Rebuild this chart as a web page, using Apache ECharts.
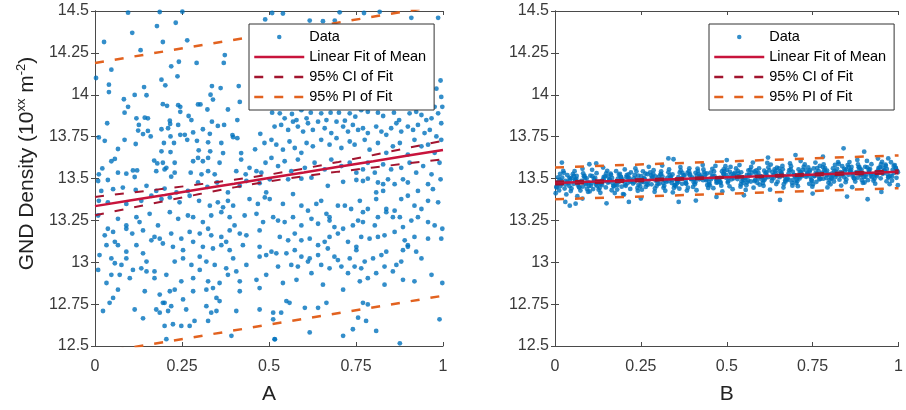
<!DOCTYPE html>
<html>
<head>
<meta charset="utf-8">
<script src="https://cdn.jsdelivr.net/npm/echarts@6/dist/echarts.min.js"></script>
<style>
  html, body { margin: 0; padding: 0; background: #fff; }
  #chart { width: 906px; height: 410px; }
</style>
</head>
<body>
<div id="chart"></div>
<script>
// Panel A: GND density samples against A
const dataA = [
  [0.095,14.49],[0.186,14.494],[0.251,14.496],[0.107,14.37],[0.178,14.41],[0.232,14.43],[0.026,14.315],[0.195,14.315],
  [0.265,14.325],[0.131,14.266],[0.373,14.237],[0.241,14.197],[0.292,14.19],[0.37,14.19],[0.219,14.17],[0.047,14.15],
  [0.191,14.09],[0.237,14.11],[0.202,14.056],[0.003,14.1],[0.04,14.06],[0.04,14.016],[0.141,14.046],[0.336,14.052],
  [0.361,14.04],[0.413,14.052],[0.083,13.973],[0.114,13.999],[0.148,13.997],[0.332,14.0],[0.339,13.971],[0.416,13.957],
  [0.095,13.928],[0.195,13.944],[0.207,13.934],[0.239,13.938],[0.245,13.928],[0.296,13.942],[0.303,13.942],[0.085,13.893],
  [0.245,13.898],[0.323,13.912],[0.382,13.912],[0.119,13.859],[0.143,13.863],[0.152,13.859],[0.215,13.845],[0.269,13.873],
  [0.035,13.83],[0.126,13.82],[0.216,13.826],[0.239,13.82],[0.277,13.849],[0.336,13.839],[0.353,13.814],[0.409,13.849],
  [0.011,13.745],[0.028,13.725],[0.124,13.786],[0.138,13.765],[0.152,13.784],[0.191,13.794],[0.21,13.8],[0.245,13.761],
  [0.258,13.761],[0.282,13.775],[0.31,13.794],[0.33,13.767],[0.371,13.82],[0.395,13.759],[0.409,13.741],[0.085,13.731],
  [0.117,13.706],[0.16,13.751],[0.198,13.712],[0.217,13.751],[0.227,13.712],[0.265,13.731],[0.293,13.725],[0.325,13.716],
  [0.363,13.712],[0.397,13.747],[0.066,13.676],[0.191,13.662],[0.217,13.658],[0.298,13.668],[0.331,13.662],[0.368,13.652],
  [0.42,13.652],[0.46,13.674],[0.475,13.767],[0.487,13.712],[0.49,13.594],[0.047,13.603],[0.057,13.617],[0.17,13.607],
  [0.179,13.59],[0.195,13.594],[0.205,13.564],[0.229,13.594],[0.282,13.603],[0.296,13.623],[0.31,13.603],[0.325,13.623],
  [0.358,13.594],[0.42,13.613],[0.444,13.564],[0.464,13.544],[0.021,13.56],[0.011,13.525],[0.066,13.535],[0.09,13.529],
  [0.109,13.548],[0.121,13.548],[0.176,13.544],[0.2,13.554],[0.229,13.535],[0.275,13.535],[0.306,13.525],[0.325,13.544],
  [0.344,13.525],[0.406,13.544],[0.433,13.525],[0.478,13.535],
  [0.509,14.488],[0.617,14.443],[0.655,14.439],[0.689,14.443],[0.703,14.492],[0.773,14.488],[0.818,14.495],[0.909,14.459],
  [0.986,14.459],[0.489,14.45],[0.54,14.485],
  [0.967,14.144],[0.955,14.066],[0.993,14.085],[0.981,14.036],[0.995,13.987],[0.998,13.928],[0.976,13.928],
  [0.509,13.893],[0.531,13.889],[0.545,13.859],[0.566,13.885],[0.579,13.849],[0.593,13.908],[0.608,13.859],[0.62,13.893],
  [0.65,13.889],[0.665,13.849],[0.677,13.893],[0.701,13.893],[0.718,13.845],[0.732,13.889],[0.748,13.869],[0.765,13.908],
  [0.784,13.898],[0.813,13.893],[0.828,13.873],[0.859,13.893],[0.874,13.849],[0.904,13.889],[0.923,13.898],[0.938,13.879],
  [0.952,13.849],[0.967,13.859],[0.986,13.889],[0.516,13.81],[0.535,13.82],[0.555,13.79],[0.569,13.839],[0.583,13.81],
  [0.598,13.78],[0.612,13.83],[0.626,13.79],[0.641,13.839],[0.66,13.8],[0.679,13.771],[0.694,13.839],[0.713,13.81],
  [0.727,13.78],[0.741,13.82],[0.756,13.79],[0.77,13.8],[0.784,13.771],[0.808,13.81],[0.823,13.78],[0.837,13.761],
  [0.851,13.8],[0.866,13.83],[0.88,13.78],[0.899,13.81],[0.914,13.79],[0.928,13.82],[0.947,13.771],[0.962,13.79],
  [0.981,13.751],[0.995,13.83],[0.507,13.731],[0.521,13.702],[0.54,13.672],[0.559,13.721],[0.574,13.682],[0.593,13.653],
  [0.608,13.712],[0.626,13.692],[0.65,13.731],[0.674,13.702],[0.694,13.741],[0.708,13.682],[0.732,13.721],[0.746,13.702],
  [0.775,13.731],[0.789,13.672],[0.813,13.712],[0.837,13.653],[0.856,13.692],[0.876,13.712],[0.899,13.643],[0.918,13.731],
  [0.938,13.692],[0.957,13.702],[0.976,13.653],[0.995,13.731],[0.507,13.623],[0.526,13.574],[0.545,13.603],[0.564,13.544],
  [0.583,13.613],[0.603,13.564],[0.631,13.594],[0.66,13.554],[0.679,13.613],[0.708,13.574],[0.732,13.594],[0.751,13.535],
  [0.77,13.554],[0.784,13.594],[0.804,13.535],[0.828,13.584],[0.851,13.554],[0.88,13.564],[0.904,13.594],[0.923,13.535],
  [0.943,13.574],[0.967,13.525],[0.99,13.594],
  [0.009,13.485],[0.037,13.491],[0.114,13.509],[0.219,13.511],[0.018,13.426],[0.052,13.436],[0.08,13.446],[0.117,13.432],
  [0.148,13.456],[0.176,13.426],[0.2,13.44],[0.234,13.417],[0.267,13.426],[0.296,13.476],[0.323,13.45],[0.351,13.476],
  [0.382,13.417],[0.416,13.456],[0.435,13.485],[0.473,13.472],[0.492,13.417],[0.011,13.367],[0.037,13.358],[0.09,13.348],
  [0.133,13.367],[0.162,13.397],[0.191,13.377],[0.215,13.387],[0.243,13.358],[0.272,13.397],[0.299,13.367],[0.33,13.338],
  [0.353,13.358],[0.368,13.328],[0.382,13.367],[0.397,13.338],[0.444,13.377],[0.468,13.348],[0.488,13.387],[0.009,13.279],
  [0.037,13.2],[0.066,13.259],[0.09,13.22],[0.119,13.269],[0.128,13.24],[0.157,13.289],[0.181,13.22],[0.215,13.299],
  [0.239,13.259],[0.267,13.279],[0.282,13.269],[0.31,13.24],[0.334,13.279],[0.363,13.299],[0.387,13.269],[0.401,13.22],
  [0.43,13.279],[0.464,13.289],[0.483,13.24],[0.028,13.161],[0.052,13.181],[0.09,13.2],[0.107,13.171],[0.138,13.19],
  [0.171,13.151],[0.186,13.141],[0.219,13.171],[0.248,13.141],[0.272,13.181],[0.301,13.171],[0.325,13.2],[0.334,13.161],
  [0.363,13.151],[0.387,13.19],[0.416,13.171],[0.435,13.161],[0.473,13.19],[0.033,13.102],[0.057,13.122],[0.066,13.102],
  [0.09,13.063],[0.119,13.102],[0.138,13.053],[0.162,13.131],[0.195,13.112],[0.224,13.092],[0.253,13.072],[0.282,13.122],
  [0.31,13.092],[0.339,13.082],[0.363,13.102],[0.377,13.122],[0.387,13.072],[0.425,13.102],[0.473,13.092],[0.492,13.043],
  [0.013,13.043],[0.047,13.023],[0.057,12.994],[0.076,12.984],[0.09,13.023],[0.109,12.954],[0.133,12.964],[0.148,13.004],
  [0.171,12.945],[0.229,13.004],[0.253,13.023],[0.277,12.984],[0.301,13.033],[0.32,13.004],[0.344,12.984],[0.377,12.964],
  [0.397,13.023],[0.435,12.984],[0.473,13.033],[0.009,12.954],[0.033,12.876],[0.047,12.925],[0.071,12.925],[0.1,12.905],
  [0.148,12.945],[0.171,12.905],[0.205,12.925],[0.248,12.886],[0.282,12.905],[0.301,12.954],[0.325,12.886],[0.358,12.876],
  [0.382,12.925],[0.406,12.945],[0.416,12.886],[0.464,12.895],[0.492,12.925],[0.066,12.836],[0.052,12.787],[0.042,12.758],
  [0.023,12.709],[0.143,12.827],[0.186,12.807],[0.2,12.758],[0.215,12.827],[0.229,12.836],[0.253,12.778],[0.282,12.827],
  [0.32,12.836],[0.339,12.846],[0.349,12.787],[0.358,12.768],[0.416,12.827],[0.473,12.846],[0.114,12.718],[0.138,12.665],
  [0.176,12.718],[0.186,12.699],[0.195,12.758],[0.21,12.709],[0.219,12.738],[0.262,12.718],[0.32,12.738],[0.325,12.65],
  [0.334,12.699],[0.349,12.709],[0.406,12.709],[0.473,12.718],[0.2,12.62],[0.248,12.62],[0.272,12.62],[0.286,12.65],
  [0.392,12.561],[0.205,12.541],[0.224,12.63],[0.517,12.54],
  [0.502,13.495],[0.555,13.495],[0.593,13.499],[0.622,13.505],[0.669,13.456],[0.713,13.48],[0.751,13.491],[0.77,13.485],
  [0.784,13.499],[0.808,13.417],[0.813,13.476],[0.828,13.466],[0.842,13.495],[0.861,13.466],[0.885,13.495],[0.899,13.476],
  [0.928,13.426],[0.957,13.466],[0.971,13.436],[0.993,13.495],[0.502,13.377],[0.54,13.348],[0.569,13.407],[0.593,13.338],
  [0.612,13.308],[0.636,13.348],[0.65,13.367],[0.665,13.289],[0.674,13.269],[0.698,13.338],[0.718,13.338],[0.736,13.318],
  [0.761,13.367],[0.77,13.299],[0.784,13.318],[0.808,13.377],[0.828,13.426],[0.837,13.318],[0.861,13.308],[0.88,13.377],
  [0.899,13.397],[0.918,13.338],[0.938,13.318],[0.957,13.367],[0.986,13.358],[0.512,13.269],[0.526,13.249],[0.545,13.24],
  [0.569,13.269],[0.593,13.22],[0.622,13.259],[0.641,13.23],[0.674,13.249],[0.688,13.21],[0.713,13.2],[0.741,13.22],
  [0.756,13.249],[0.77,13.24],[0.804,13.22],[0.813,13.269],[0.837,13.299],[0.856,13.269],[0.876,13.269],[0.885,13.21],
  [0.909,13.249],[0.928,13.269],[0.957,13.24],[0.976,13.22],[0.998,13.2],[0.531,13.151],[0.555,13.131],[0.574,13.171],
  [0.593,13.131],[0.617,13.141],[0.641,13.102],[0.66,13.122],[0.674,13.151],[0.698,13.171],[0.727,13.122],[0.751,13.092],
  [0.765,13.151],[0.789,13.141],[0.813,13.151],[0.832,13.161],[0.861,13.181],[0.89,13.131],[0.899,13.102],[0.918,13.151],
  [0.957,13.141],[0.995,13.141],[0.507,13.063],[0.521,13.053],[0.55,13.053],[0.574,13.072],[0.593,13.033],[0.617,13.023],
  [0.641,13.043],[0.669,13.082],[0.688,13.033],[0.698,13.013],[0.732,13.023],[0.751,13.072],[0.775,13.004],[0.799,13.023],
  [0.823,13.043],[0.837,13.063],[0.866,12.984],[0.885,13.072],[0.899,13.092],[0.923,13.063],[0.938,13.023],[0.526,12.974],
  [0.564,12.984],[0.583,12.974],[0.612,13.004],[0.622,12.935],[0.65,12.984],[0.674,12.964],[0.708,12.974],[0.727,12.935],
  [0.746,12.974],[0.765,12.964],[0.784,12.905],[0.808,12.935],[0.832,12.974],[0.856,12.945],[0.88,13.004],[0.967,12.925],
  [0.54,12.876],[0.579,12.895],[0.655,12.866],[0.713,12.836],[0.761,12.886],[0.832,12.866],[0.885,12.895],[0.918,12.886],
  [0.998,12.876],[0.55,12.768],[0.559,12.758],[0.512,12.699],[0.535,12.699],[0.603,12.728],[0.641,12.728],[0.665,12.758],
  [0.77,12.758],[0.784,12.748],[0.512,12.659],[0.756,12.669],[0.779,12.65],[0.99,12.659],[0.617,12.581],[0.713,12.561],
  [0.741,12.6],[0.808,12.59],[0.516,12.541],[0.876,12.516]
];

// Panel B: GND density samples against B
const dataB = [
  [0.002,13.412],[0.021,13.505],[0.009,13.466],[0.015,13.528],[0.005,13.447],[0.018,13.486],[0.012,13.429],[0.024,13.545],[0.007,13.477],[0.016,13.455],
  [0.036,13.52],[0.028,13.44],[0.044,13.494],[0.033,13.405],[0.048,13.502],[0.039,13.472],[0.026,13.534],[0.042,13.454],[0.031,13.485],[0.046,13.425],
  [0.066,13.462],[0.057,13.544],[0.074,13.428],[0.062,13.498],[0.068,13.475],[0.055,13.515],[0.065,13.394],[0.059,13.491],[0.071,13.446],[0.052,13.526],
  [0.077,13.485],[0.096,13.421],[0.084,13.514],[0.09,13.466],[0.08,13.558],[0.093,13.438],[0.087,13.502],[0.099,13.455],[0.082,13.531],[0.091,13.472],
  [0.111,13.437],[0.103,13.517],[0.119,13.463],[0.108,13.552],[0.123,13.455],[0.114,13.485],[0.101,13.423],[0.117,13.503],[0.106,13.472],[0.121,13.532],
  [0.141,13.497],[0.132,13.415],[0.149,13.531],[0.137,13.461],[0.143,13.484],[0.13,13.444],[0.14,13.565],[0.134,13.468],[0.146,13.513],[0.127,13.433],
  [0.152,13.546],[0.171,13.453],[0.159,13.492],[0.165,13.43],[0.155,13.511],[0.168,13.472],[0.162,13.529],[0.174,13.413],[0.157,13.481],[0.166,13.503],
  [0.186,13.48],[0.178,13.544],[0.194,13.451],[0.183,13.499],[0.198,13.407],[0.189,13.527],[0.176,13.463],[0.192,13.51],[0.181,13.434],[0.196,13.493],
  [0.211,13.472],[0.203,13.554],[0.219,13.438],[0.208,13.508],[0.223,13.485],[0.214,13.525],[0.201,13.404],[0.217,13.501],[0.206,13.456],[0.221,13.536],
  [0.241,13.427],[0.232,13.52],[0.249,13.481],[0.237,13.543],[0.243,13.462],[0.23,13.501],[0.24,13.444],[0.234,13.56],[0.246,13.492],[0.227,13.47],
  [0.261,13.497],[0.253,13.433],[0.269,13.526],[0.258,13.478],[0.273,13.57],[0.264,13.45],[0.251,13.514],[0.267,13.467],[0.256,13.543],[0.271,13.484],
  [0.277,13.536],[0.296,13.456],[0.284,13.51],[0.29,13.421],[0.28,13.518],[0.293,13.488],[0.287,13.55],[0.299,13.47],[0.282,13.501],[0.291,13.441],
  [0.302,13.509],[0.321,13.427],[0.309,13.543],[0.315,13.473],[0.305,13.496],[0.318,13.456],[0.312,13.577],[0.324,13.48],[0.307,13.525],[0.316,13.445],
  [0.341,13.49],[0.332,13.554],[0.349,13.461],[0.337,13.509],[0.343,13.417],[0.33,13.537],[0.34,13.473],[0.334,13.52],[0.346,13.444],[0.327,13.503],
  [0.352,13.453],[0.371,13.533],[0.359,13.479],[0.365,13.568],[0.355,13.471],[0.368,13.501],[0.362,13.439],[0.374,13.519],[0.357,13.488],[0.366,13.548],
  [0.391,13.561],[0.382,13.468],[0.399,13.507],[0.387,13.445],[0.393,13.526],[0.38,13.487],[0.39,13.544],[0.384,13.428],[0.396,13.496],[0.377,13.518],
  [0.416,13.545],[0.407,13.465],[0.424,13.519],[0.412,13.43],[0.418,13.527],[0.405,13.497],[0.415,13.559],[0.409,13.479],[0.421,13.51],[0.402,13.45],
  [0.427,13.508],[0.446,13.444],[0.434,13.537],[0.44,13.489],[0.43,13.581],[0.443,13.461],[0.437,13.525],[0.449,13.478],[0.432,13.554],[0.441,13.495],
  [0.461,13.442],[0.453,13.535],[0.469,13.496],[0.458,13.558],[0.473,13.477],[0.464,13.516],[0.451,13.459],[0.467,13.575],[0.456,13.507],[0.471,13.485],
  [0.477,13.491],[0.496,13.573],[0.484,13.457],[0.49,13.527],[0.48,13.504],[0.493,13.544],[0.487,13.423],[0.499,13.52],[0.482,13.475],[0.491,13.555],
  [0.511,13.569],[0.503,13.476],[0.519,13.515],[0.508,13.453],[0.523,13.534],[0.514,13.495],[0.501,13.552],[0.517,13.436],[0.506,13.504],[0.521,13.526],
  [0.541,13.465],[0.532,13.545],[0.549,13.491],[0.537,13.58],[0.543,13.483],[0.53,13.513],[0.54,13.451],[0.534,13.531],[0.546,13.5],[0.527,13.56],
  [0.552,13.505],[0.571,13.569],[0.559,13.476],[0.565,13.524],[0.555,13.432],[0.568,13.552],[0.562,13.488],[0.574,13.535],[0.557,13.459],[0.566,13.518],
  [0.586,13.527],[0.578,13.445],[0.594,13.561],[0.583,13.491],[0.598,13.514],[0.589,13.474],[0.576,13.595],[0.592,13.498],[0.581,13.543],[0.596,13.463],
  [0.616,13.52],[0.607,13.456],[0.624,13.549],[0.612,13.501],[0.618,13.593],[0.605,13.473],[0.615,13.537],[0.609,13.49],[0.621,13.566],[0.602,13.507],
  [0.636,13.501],[0.628,13.583],[0.644,13.467],[0.633,13.537],[0.648,13.514],[0.639,13.554],[0.626,13.433],[0.642,13.53],[0.631,13.485],[0.646,13.565],
  [0.652,13.561],[0.671,13.481],[0.659,13.535],[0.665,13.446],[0.655,13.543],[0.668,13.513],[0.662,13.575],[0.674,13.495],[0.657,13.526],[0.666,13.466],
  [0.691,13.457],[0.682,13.55],[0.699,13.511],[0.687,13.573],[0.693,13.492],[0.68,13.531],[0.69,13.474],[0.684,13.59],[0.696,13.522],[0.677,13.5],
  [0.716,13.536],[0.707,13.454],[0.724,13.57],[0.712,13.5],[0.718,13.523],[0.705,13.483],[0.715,13.604],[0.709,13.507],[0.721,13.552],[0.702,13.472],
  [0.727,13.584],[0.746,13.491],[0.734,13.53],[0.74,13.468],[0.73,13.549],[0.743,13.51],[0.737,13.567],[0.749,13.451],[0.732,13.519],[0.741,13.541],
  [0.761,13.48],[0.753,13.56],[0.769,13.506],[0.758,13.595],[0.773,13.498],[0.764,13.528],[0.751,13.466],[0.767,13.546],[0.756,13.515],[0.771,13.575],
  [0.791,13.52],[0.782,13.584],[0.799,13.491],[0.787,13.539],[0.793,13.447],[0.78,13.567],[0.79,13.503],[0.784,13.55],[0.796,13.474],[0.777,13.533],
  [0.802,13.465],[0.821,13.558],[0.809,13.519],[0.815,13.581],[0.805,13.5],[0.818,13.539],[0.812,13.482],[0.824,13.598],[0.807,13.53],[0.816,13.508],
  [0.836,13.573],[0.828,13.493],[0.844,13.547],[0.833,13.458],[0.848,13.555],[0.839,13.525],[0.826,13.587],[0.842,13.507],[0.831,13.538],[0.846,13.478],
  [0.866,13.516],[0.857,13.598],[0.874,13.482],[0.862,13.552],[0.868,13.529],[0.855,13.569],[0.865,13.448],[0.859,13.545],[0.871,13.5],[0.852,13.58],
  [0.877,13.538],[0.896,13.474],[0.884,13.567],[0.89,13.519],[0.88,13.611],[0.893,13.491],[0.887,13.555],[0.899,13.508],[0.882,13.584],[0.891,13.525],
  [0.911,13.49],[0.903,13.57],[0.919,13.516],[0.908,13.605],[0.923,13.508],[0.914,13.538],[0.901,13.476],[0.917,13.556],[0.906,13.525],[0.921,13.585],
  [0.941,13.551],[0.932,13.469],[0.949,13.585],[0.937,13.515],[0.943,13.538],[0.93,13.498],[0.94,13.619],[0.934,13.522],[0.946,13.567],[0.927,13.487],
  [0.952,13.599],[0.971,13.506],[0.959,13.545],[0.965,13.483],[0.955,13.564],[0.968,13.525],[0.962,13.582],[0.974,13.466],[0.957,13.534],[0.966,13.556],
  [0.986,13.533],[0.978,13.597],[0.994,13.504],[0.983,13.552],[0.998,13.46],[0.989,13.58],[0.976,13.516],[0.992,13.563],[0.981,13.487],[0.996,13.546],
  [0.004,13.45],[0.013,13.491],[0.02,13.468],[0.009,13.507],[0.042,13.504],[0.031,13.464],[0.036,13.48],[0.048,13.441],
  [0.054,13.468],[0.063,13.515],[0.07,13.448],[0.059,13.488],[0.092,13.5],[0.081,13.452],[0.086,13.515],[0.098,13.477],
  [0.104,13.457],[0.113,13.498],[0.12,13.475],[0.109,13.514],[0.142,13.51],[0.131,13.47],[0.136,13.486],[0.148,13.447],
  [0.154,13.475],[0.163,13.522],[0.17,13.455],[0.159,13.495],[0.192,13.507],[0.181,13.459],[0.186,13.522],[0.198,13.484],
  [0.204,13.463],[0.213,13.504],[0.22,13.481],[0.209,13.52],[0.242,13.517],[0.231,13.477],[0.236,13.493],[0.248,13.454],
  [0.254,13.482],[0.263,13.529],[0.27,13.462],[0.259,13.502],[0.292,13.513],[0.281,13.465],[0.286,13.528],[0.298,13.49],
  [0.304,13.47],[0.313,13.511],[0.32,13.488],[0.309,13.527],[0.342,13.524],[0.331,13.484],[0.336,13.5],[0.348,13.461],
  [0.354,13.488],[0.363,13.535],[0.37,13.468],[0.359,13.508],[0.392,13.52],[0.381,13.472],[0.386,13.535],[0.398,13.497],
  [0.404,13.477],[0.413,13.518],[0.42,13.495],[0.409,13.534],[0.442,13.53],[0.431,13.49],[0.436,13.506],[0.448,13.467],
  [0.454,13.495],[0.463,13.542],[0.47,13.475],[0.459,13.515],[0.492,13.527],[0.481,13.479],[0.486,13.542],[0.498,13.504],
  [0.504,13.483],[0.513,13.524],[0.52,13.501],[0.509,13.54],[0.542,13.537],[0.531,13.497],[0.536,13.513],[0.548,13.474],
  [0.554,13.502],[0.563,13.549],[0.57,13.482],[0.559,13.522],[0.592,13.533],[0.581,13.485],[0.586,13.548],[0.598,13.51],
  [0.604,13.49],[0.613,13.531],[0.62,13.508],[0.609,13.547],[0.642,13.544],[0.631,13.504],[0.636,13.52],[0.648,13.481],
  [0.654,13.508],[0.663,13.555],[0.67,13.488],[0.659,13.528],[0.692,13.54],[0.681,13.492],[0.686,13.555],[0.698,13.517],
  [0.704,13.497],[0.713,13.538],[0.72,13.515],[0.709,13.554],[0.742,13.55],[0.731,13.51],[0.736,13.526],[0.748,13.487],
  [0.754,13.515],[0.763,13.562],[0.77,13.495],[0.759,13.535],[0.792,13.547],[0.781,13.499],[0.786,13.562],[0.798,13.524],
  [0.804,13.503],[0.813,13.544],[0.82,13.521],[0.809,13.56],[0.842,13.557],[0.831,13.517],[0.836,13.533],[0.848,13.494],
  [0.854,13.522],[0.863,13.569],[0.87,13.502],[0.859,13.542],[0.892,13.553],[0.881,13.505],[0.886,13.568],[0.898,13.53],
  [0.904,13.51],[0.913,13.551],[0.92,13.528],[0.909,13.567],[0.942,13.564],[0.931,13.524],[0.936,13.54],[0.948,13.501],
  [0.954,13.528],[0.963,13.575],[0.97,13.508],[0.959,13.548],[0.992,13.56],[0.981,13.512],[0.986,13.575],[0.998,13.537],
  [0.043,13.338],[0.06,13.35],[0.15,13.352],[0.215,13.36],[0.36,13.36],[0.41,13.368],[0.655,13.372],[0.91,13.376],[0.85,13.392],
  [0.84,13.68],[0.9,13.66],[0.7,13.64],[0.33,13.62],[0.345,13.615],[0.02,13.595],[0.1,13.585],[0.12,13.59],[0.5,13.61],
  [0.62,13.625],[0.78,13.63],[0.97,13.62],[0.03,13.36],[0.08,13.38],[0.25,13.38],[0.47,13.39],[0.55,13.4],[0.75,13.41],[0.95,13.42]
];

// Fit curves sampled at these abscissae
const fitX = [0, 0.1, 0.2, 0.3, 0.4, 0.5, 0.6, 0.7, 0.8, 0.9, 1];
const meanA = [13.335, 13.369, 13.402, 13.436, 13.469, 13.503, 13.536, 13.57, 13.603, 13.637, 13.67];
const ciUpA = [13.39, 13.415, 13.439, 13.465, 13.492, 13.523, 13.559, 13.599, 13.64, 13.683, 13.725];
const ciLoA = [13.28, 13.323, 13.365, 13.407, 13.447, 13.483, 13.514, 13.541, 13.566, 13.591, 13.615];
const piX = [0, 1];
const piUpA = [14.19, 14.535];
const piLoA = [12.455, 12.80];

const meanB = [13.473, 13.48, 13.486, 13.493, 13.5, 13.507, 13.513, 13.52, 13.527, 13.533, 13.54];
const ciUpB = [13.482, 13.488, 13.493, 13.499, 13.505, 13.511, 13.518, 13.526, 13.534, 13.541, 13.549];
const ciLoB = [13.464, 13.472, 13.479, 13.488, 13.495, 13.503, 13.508, 13.515, 13.52, 13.525, 13.531];
const piUpB = [13.566, 13.638];
const piLoB = [13.376, 13.442];

const xTicks = { min: 0, max: 1, interval: 0.25 };
const yTicks = { min: 12.5, max: 14.5, interval: 0.25 };
const legendNames = ['Data', 'Linear Fit of Mean', '95% CI of Fit', '95% PI of Fit'];

const FONT = 'Liberation Sans, Arial, Helvetica, sans-serif';
const AXIS_COLOR = '#4a4a4a';
const LABEL_COLOR = '#3a3a3a';
const C_DATA = '#0072BD';
const C_MEAN = '#C8143C';
const C_CI = '#A2142F';
const C_PI = '#E2621F';

const pairs = (xs, ys) => xs.map((x, i) => [x, ys[i]]);

function axesFor(gridIndex, name, showYName) {
  const line = { show: true, lineStyle: { color: AXIS_COLOR, width: 1 } };
  const tick = { show: true, inside: true, length: 4, lineStyle: { color: AXIS_COLOR } };
  const x = [
    Object.assign({
      type: 'value', gridIndex, position: 'bottom',
      name, nameLocation: 'middle', nameGap: 38,
      nameTextStyle: { fontFamily: FONT, fontSize: 21, color: '#222' },
      axisLine: line, axisTick: tick, splitLine: { show: false },
      axisLabel: { fontFamily: FONT, fontSize: 16, color: LABEL_COLOR, margin: 13 }
    }, xTicks),
    Object.assign({
      type: 'value', gridIndex, position: 'top',
      axisLine: line, axisTick: tick, splitLine: { show: false },
      axisLabel: { show: false }
    }, xTicks)
  ];
  const yLeft = Object.assign({
    type: 'value', gridIndex, position: 'left',
    axisLine: line, axisTick: tick, splitLine: { show: false },
    axisLabel: { fontFamily: FONT, fontSize: 16, color: LABEL_COLOR, margin: 6 }
  }, yTicks);
  if (showYName) {
    Object.assign(yLeft, {
      name: '{a|GND Density (10}{s|xx}{a| m}{s|-2}{a|)}',
      nameLocation: 'middle', nameGap: 55, nameRotate: 90,
      nameTextStyle: {
        padding: [0, 0, 0, 30],
        rich: {
          a: { fontFamily: FONT, fontSize: 21, color: '#222' },
          s: { fontFamily: FONT, fontSize: 13, color: '#222', padding: [0, 0, 12, 0] }
        }
      }
    });
  }
  const y = [
    yLeft,
    Object.assign({
      type: 'value', gridIndex, position: 'right',
      axisLine: line, axisTick: tick, splitLine: { show: false },
      axisLabel: { show: false }
    }, yTicks)
  ];
  return { x, y };
}

function seriesFor(axisBase, data, mean, ciUp, ciLo, piUp, piLo) {
  const idx = { xAxisIndex: axisBase, yAxisIndex: axisBase };
  const line = (name, ys, xs, color, width, type) => Object.assign({
    type: 'line', name, data: pairs(xs, ys), symbol: 'none', silent: true,
    itemStyle: { color },
    lineStyle: { color, width, type }, z: 3
  }, idx);
  return [
    Object.assign({
      type: 'scatter', name: 'Data', data, symbol: 'circle', symbolSize: 4.8,
      itemStyle: { color: C_DATA }, silent: true, z: 2
    }, idx),
    line('Linear Fit of Mean', mean, fitX, C_MEAN, 2.5, 'solid'),
    line('95% CI of Fit', ciUp, fitX, C_CI, 2, [9, 11]),
    line('95% CI of Fit', ciLo, fitX, C_CI, 2, [9, 11]),
    line('95% PI of Fit', piUp, piX, C_PI, 2.5, [9, 11]),
    line('95% PI of Fit', piLo, piX, C_PI, 2.5, [9, 11])
  ];
}

function legendAt(left) {
  // line entries show only their stroke, no marker
  const items = legendNames.map((name, i) => i === 0 ? { name } : { name, itemStyle: { opacity: 0 } });
  return {
    data: items, orient: 'vertical', left, top: 24,
    padding: [3, 8, 3, 4], itemWidth: 50, itemHeight: 4.5, itemGap: 0, itemTextGap: 3,
    backgroundColor: '#fff', borderColor: '#333', borderWidth: 1, borderRadius: 0,
    selectedMode: false,
    lineStyle: { width: 2.5 },
    textStyle: { fontFamily: FONT, fontSize: 14.5, color: '#000', lineHeight: 20 }
  };
}

const axA = axesFor(0, 'A', true);
const axB = axesFor(1, 'B', false);

const chart = echarts.init(document.getElementById('chart'), null, { renderer: 'canvas' });
chart.setOption({
  backgroundColor: '#fff',
  animation: false,
  grid: [
    { left: 95, top: 11, width: 348, height: 339 },
    { left: 555, top: 11, width: 348, height: 339 }
  ],
  xAxis: axA.x.concat(axB.x),
  yAxis: axA.y.concat(axB.y),
  legend: [legendAt(249), legendAt(709)],
  series: [].concat(
    seriesFor(0, dataA, meanA, ciUpA, ciLoA, piUpA, piLoA),
    seriesFor(2, dataB, meanB, ciUpB, ciLoB, piUpB, piLoB)
  )
});
</script>
</body>
</html>
